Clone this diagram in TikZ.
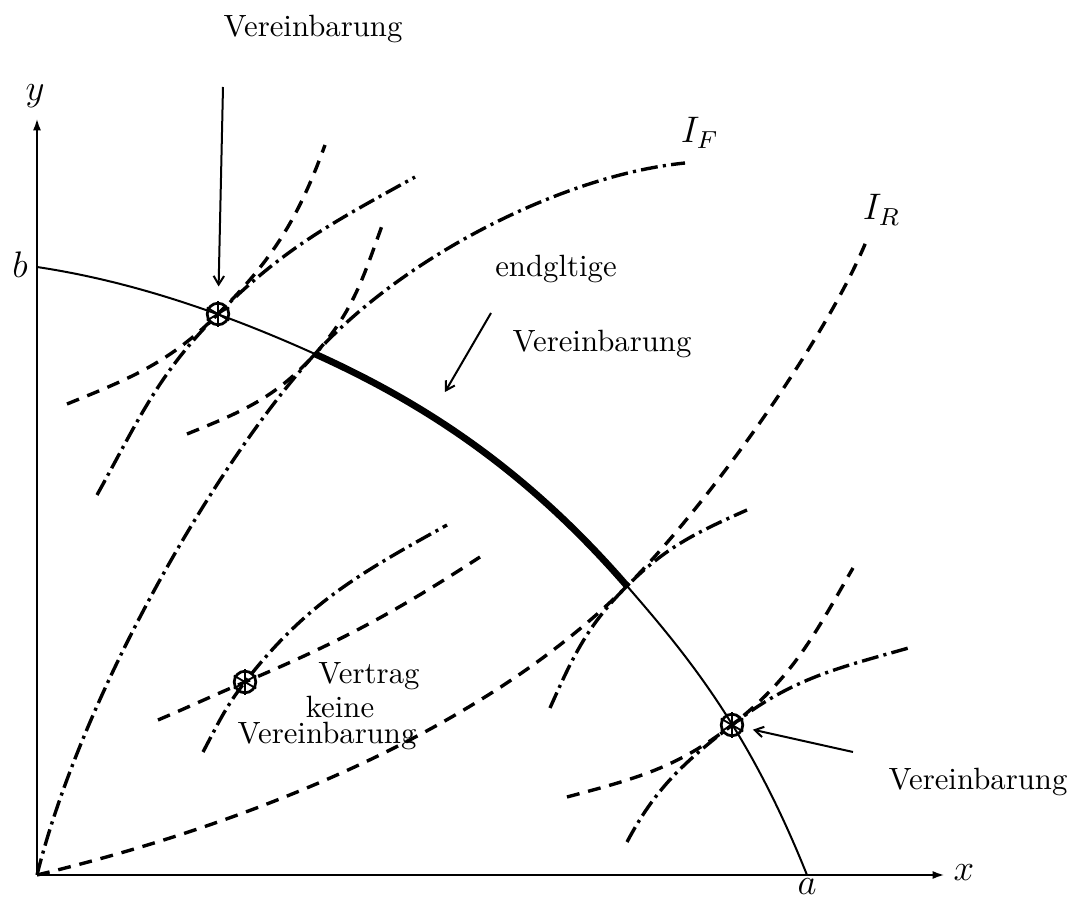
\documentclass[tikz,border=0pt]{standalone}
\usepackage{amsmath,amssymb}
\usepackage{tikz}
\usetikzlibrary{arrows.meta,positioning}

\begin{document}
\begin{tikzpicture}[
  x=0.325pt, y=0.325pt,
  axis/.style={line width=0.85pt, -{Latex[length=4pt,width=2.6pt]}},
  frontier/.style={line width=0.65pt},
  core/.style={line width=2.2pt},
  fcurve/.style={line width=1.1pt, dash pattern=on 5.5pt off 1.7pt on 1pt off 1.7pt},
  rcurve/.style={line width=1.1pt, dash pattern=on 4.2pt off 2.9pt},
  deal/.style={circle, draw, line width=0.9pt, minimum size=7pt, inner sep=0pt},
  ptr/.style={line width=0.65pt, -{Straight Barb[length=2.8pt,width=3.4pt]}},
  lab/.style={font=\normalsize, anchor=base},
  mlab/.style={font=\large}
]
\useasboundingbox (-37,-26) rectangle (1030,875);
\coordinate (o) at (0,0);
\coordinate (ytop) at (0,757);
\coordinate (xend) at (908,0);
\coordinate (bpt) at (0,608);
\coordinate (apt) at (770,0);
\coordinate (p1) at (278,521);
\coordinate (p2) at (590,289);
\coordinate (fend) at (648,712);
\coordinate (rend) at (831,638);

\draw[axis] (o) -- (ytop);
\draw[axis] (o) -- (xend);
\node[mlab] (ylab) at (-2,779) {$y$};
\node[mlab] (blab) at (-17,610) {$b$};
\node[mlab] (xlab) at (927,2) {$x$};
\node[mlab, anchor=north] (alab) at (770,7) {$a$};

\draw[frontier] (bpt) .. controls (93,594) and (185,563) .. (p1)
  .. controls (382,474) and (486,409) .. (p2)
  .. controls (650,220) and (712,145) .. (apt);
\draw[core] (p1) .. controls (382,474) and (486,409) .. (p2);

\draw[fcurve] (o) .. controls (45,180) and (178,411) .. (p1)
  .. controls (368,620) and (528,700) .. (fend);
\draw[rcurve] (o) .. controls (200,48) and (440,139) .. (p2)
  .. controls (670,369) and (791,538) .. (rend);
\node[mlab, anchor=base west] (iflab) at (633,732) {$I_F$};
\node[mlab, anchor=base west] (irlab) at (815,655) {$I_R$};

\node[deal] (m1) at (181,561) {};
\node[deal] (m2) at (695,150) {};
\node[deal] (m3) at (208,193) {};

\draw[rcurve] (30,471) to[out=22,in=225] (m1.center) to[out=45,in=250] (288,730);
\draw[fcurve] (60,380) to[out=61,in=225] (m1.center) to[out=45,in=209] (378,698);
\draw[rcurve] (150,441) to[out=22,in=228] (p1) to[out=48,in=250] (346,652);
\draw[fcurve] (513,167) to[out=66,in=225] (p2) to[out=45,in=204] (710,365);
\draw[rcurve] (530,78) to[out=15,in=218] (m2.center) to[out=38,in=240] (816,307);
\draw[fcurve] (590,33) to[out=62,in=218] (m2.center) to[out=38,in=196] (875,228);
\draw[rcurve] (121,155) to[out=23,in=203] (m3.center) to[out=23,in=213] (443,318);
\draw[fcurve] (166,123) to[out=62,in=232] (m3.center) to[out=52,in=209] (410,350);

\foreach \m in {m1,m2,m3}
  \foreach \a in {30,90,150}
    \draw[line width=0.6pt] ([shift={(\a:4.2pt)}]\m.center) -- ([shift={(\a+180:4.2pt)}]\m.center);

\node[lab] (topdeal) at (276,838) {Vereinbarung};
\coordinate (tA) at (186,788);
\draw[ptr, shorten >=5pt] (tA) -- (m1);

\node[lab] (final1) at (519,598) {endgltige};
\node[lab] (final2) at (565,523) {Vereinbarung};
\coordinate (tC) at (454,562);
\coordinate (tCend) at (408,483);
\draw[ptr] (tC) -- (tCend);

\node[lab] (contract) at (332,191) {Vertrag};
\node[lab] (nodeal1) at (303,157) {keine};
\node[lab] (nodeal2) at (290,131) {Vereinbarung};

\node[lab] (rdeal) at (941,85) {Vereinbarung};
\coordinate (tB) at (816,123);
\draw[ptr, shorten >=3pt] (tB) -- (m2);
\end{tikzpicture}
\end{document}
